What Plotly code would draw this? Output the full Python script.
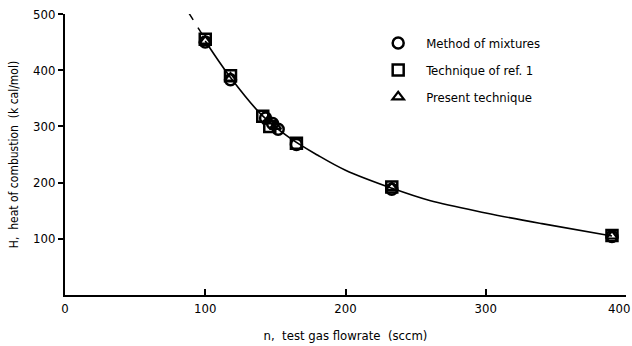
import plotly.graph_objects as go

# --- data ---
mix_n = [100, 118, 143, 148, 152, 165, 233, 390]
mix_H = [450, 383, 315, 305, 295, 268, 188, 104]

ref1_n = [100, 118, 141, 146, 165, 233, 390]
ref1_H = [455, 390, 318, 300, 270, 192, 106]

pres_n = [100, 118, 145, 150, 233, 390]
pres_H = [452, 386, 310, 300, 191, 105]

curve_n = [100, 118, 140, 160, 180, 200, 233, 260, 300, 340, 390]
curve_H = [452, 387, 321, 280, 249, 222, 190, 168, 146, 127, 105]

dash_n = [88, 100]
dash_H = [503, 455]

x_ticks = [0, 100, 200, 300, 400]
y_ticks = [100, 200, 300, 400, 500]

FONT = "Liberation Sans Narrow, DejaVu Sans Condensed, Arial Narrow, sans-serif"

fig = go.Figure()
fig.add_trace(go.Scatter(x=dash_n, y=dash_H, mode="lines",
                         line=dict(color="black", width=1.5, dash="dash"),
                         showlegend=False, hoverinfo="skip"))
fig.add_trace(go.Scatter(x=curve_n, y=curve_H, mode="lines",
                         line=dict(color="black", width=1.6, shape="spline", smoothing=1.0),
                         showlegend=False, hoverinfo="skip"))
fig.add_trace(go.Scatter(x=mix_n, y=mix_H, mode="markers", name="Method of mixtures",
                         legendgroup="a",
                         marker=dict(symbol="circle-open", size=11, color="black",
                                     line=dict(width=2.5, color="black"))))
fig.add_trace(go.Scatter(x=ref1_n, y=ref1_H, mode="markers", name="Technique of ref. 1",
                         legendgroup="b",
                         marker=dict(symbol="square-open", size=11, color="black",
                                     line=dict(width=2.5, color="black"))))
fig.add_trace(go.Scatter(x=pres_n, y=pres_H, mode="markers", name="Present technique",
                         legendgroup="c",
                         marker=dict(symbol="triangle-up-open", size=10, color="black",
                                     line=dict(width=2.2, color="black"))))

# all but the last x tick label drawn by the axis; the last one is right-aligned
# so that it stays inside the page
x_text = [str(v) for v in x_ticks[:-1]] + [""]

fig.update_layout(
    width=632, height=346,
    margin=dict(l=65, r=6, t=14, b=51, autoexpand=False),
    paper_bgcolor="white", plot_bgcolor="white",
    font=dict(family=FONT, size=13, color="black"),
    showlegend=True,
    legend=dict(x=0.544, y=0.95, xanchor="left", yanchor="top",
                bgcolor="rgba(0,0,0,0)", tracegroupgap=7, itemwidth=46,
                font=dict(family=FONT, size=13, color="black")),
    xaxis=dict(range=[0, 400], tickvals=x_ticks, ticktext=x_text,
               showgrid=False, zeroline=False, showline=True, linecolor="black",
               linewidth=2, ticks="inside", ticklen=6, tickwidth=2, tickcolor="black",
               automargin=False,
               title=dict(text="n,  test gas flowrate  (sccm)", standoff=16,
                          font=dict(family=FONT, size=13))),
    yaxis=dict(range=[0, 500], tickvals=y_ticks, ticktext=[str(v) for v in y_ticks],
               showgrid=False, zeroline=False, showline=True, linecolor="black",
               linewidth=2, ticks="outside", ticklen=5, tickwidth=2, tickcolor="black",
               automargin=False,
               title=dict(text="H,  heat of combustion  (k cal/mol)", standoff=12,
                          font=dict(family=FONT, size=12))),
    annotations=[dict(x=x_ticks[-1], xref="x", y=0, yref="y", yshift=-4,
                      text=str(x_ticks[-1]), showarrow=False,
                      xanchor="right", yanchor="top", xshift=6,
                      font=dict(family=FONT, size=13, color="black"))],
)

fig.write_html("out.html")
